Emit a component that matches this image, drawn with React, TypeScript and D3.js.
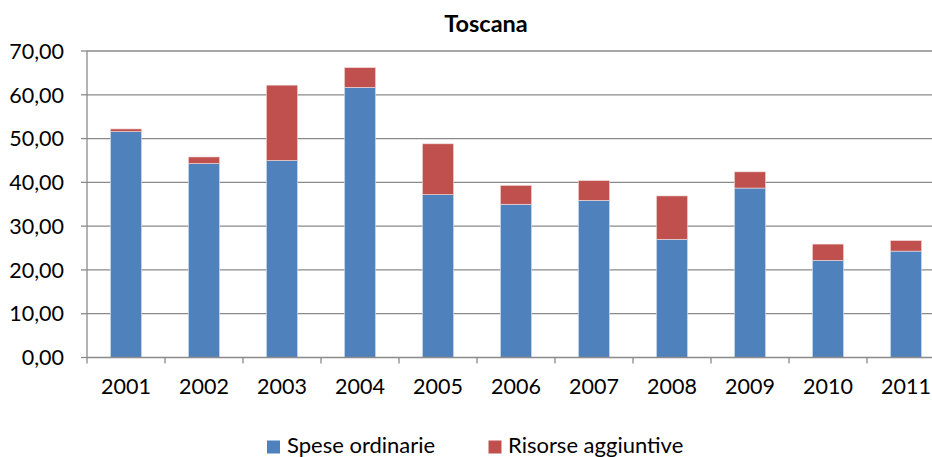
import * as d3 from "d3";

const years = ["2001", "2002", "2003", "2004", "2005", "2006", "2007", "2008", "2009", "2010", "2011"];
const speseOrdinarie = [51.6, 44.3, 45.0, 61.7, 37.2, 35.0, 35.9, 27.0, 38.7, 22.2, 24.3];
const risorseAggiuntive = [0.6, 1.5, 17.2, 4.5, 11.6, 4.3, 4.5, 9.9, 3.7, 3.7, 2.4];
const yTicks = [0, 10, 20, 30, 40, 50, 60, 70];

const BLUE = "#4F81BD";
const RED = "#C0504D";
const GRID = "#8a8a8a";
const FONT = "Lato, 'Open Sans', sans-serif";

export default function App() {
  const W = 932;
  const H = 457;
  const left = 87;
  const right = 945;
  const top = 51;
  const bottom = 357.5;

  const x = d3.scaleBand<string>().domain(years).range([left, right]).paddingInner(0.6).paddingOuter(0.3);
  const y = d3.scaleLinear().domain([0, 70]).range([bottom, top]);
  const step = x.step();
  const fmt = (v: number) => v.toFixed(2).replace(".", ",");

  return (
    <svg width={W} height={H} style={{ position: "absolute", left: 0, top: 0, background: "#fff" }} fontFamily={FONT}>
      <text x={486} y={32} textAnchor="middle" fontWeight="bold" fontSize={23.5} fill="#000">
        Toscana
      </text>

      {/* gridlines + y ticks */}
      {yTicks.map((t) => (
        <g key={t}>
          {t > 0 && <line x1={left} x2={right} y1={y(t)} y2={y(t)} stroke={GRID} strokeWidth={1.3} />}
          <line x1={left - 6} x2={left} y1={y(t)} y2={y(t)} stroke={GRID} strokeWidth={1.3} />
          <text x={64} y={y(t)} dy="0.36em" textAnchor="end" fontSize={21.5} fill="#000">
            {fmt(t)}
          </text>
        </g>
      ))}

      {/* bars */}
      {years.map((yr, i) => {
        const x0 = x(yr)!;
        const b = speseOrdinarie[i];
        const r = risorseAggiuntive[i];
        return (
          <g key={yr}>
            <rect x={x0} y={y(b)} width={x.bandwidth()} height={y(0) - y(b)} fill={BLUE} stroke="#dbe5f1" strokeWidth={0.6} />
            <rect x={x0} y={y(b + r)} width={x.bandwidth()} height={y(b) - y(b + r)} fill={RED} stroke="#f2dcdb" strokeWidth={0.6} />
          </g>
        );
      })}

      {/* axes */}
      <line x1={left} x2={left} y1={top} y2={bottom} stroke={GRID} strokeWidth={1.3} />
      <line x1={left} x2={right} y1={bottom} y2={bottom} stroke={GRID} strokeWidth={1.3} />
      {years.map((yr, i) => (
        <line key={"t" + yr} x1={left + step * (i + 1)} x2={left + step * (i + 1)} y1={bottom} y2={bottom + 6} stroke={GRID} strokeWidth={1.3} />
      ))}
      <line x1={left} x2={left} y1={bottom} y2={bottom + 6} stroke={GRID} strokeWidth={1.3} />
      {years.map((yr) => (
        <text key={"l" + yr} x={x(yr)! + x.bandwidth() / 2} y={394} textAnchor="middle" fontSize={21.5} fill="#000">
          {yr}
        </text>
      ))}

      {/* legend */}
      <rect x={267} y={440.5} width={13} height={13} fill={BLUE} />
      <text x={287} y={453} fontSize={22} fill="#000">Spese ordinarie</text>
      <rect x={488.5} y={440.5} width={13} height={13} fill={RED} />
      <text x={508} y={453} fontSize={22} fill="#000">Risorse aggiuntive</text>
    </svg>
  );
}
